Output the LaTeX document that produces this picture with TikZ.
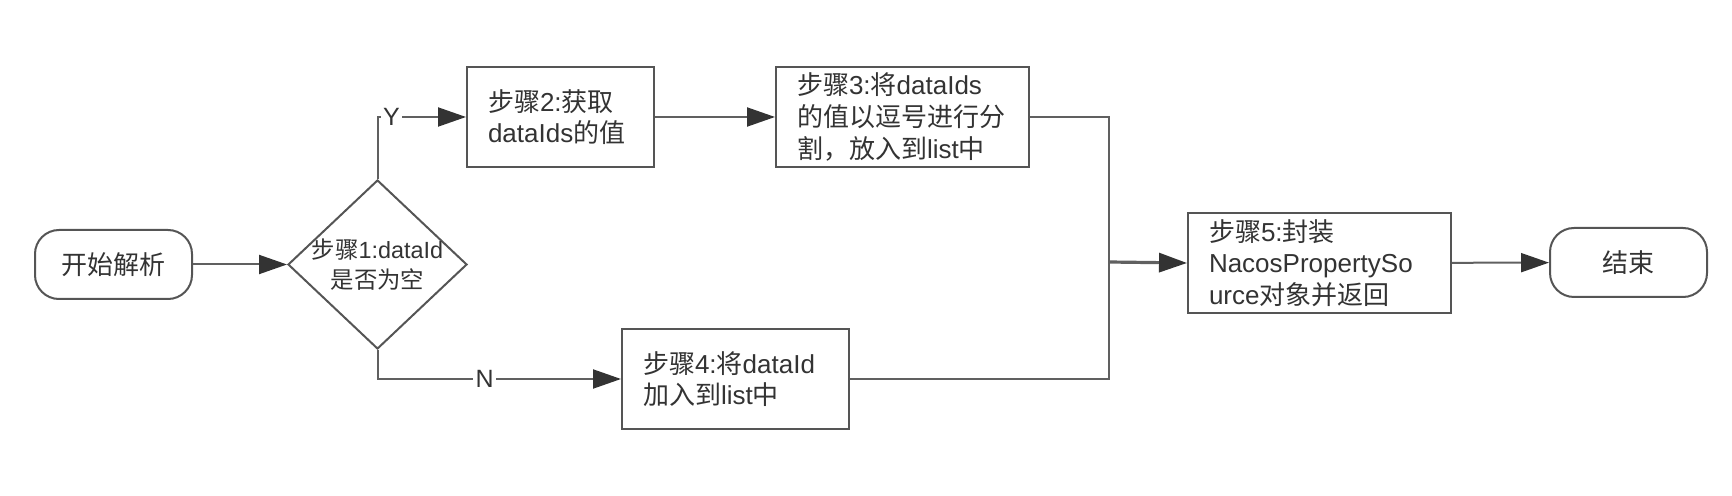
\documentclass[tikz,border=0pt]{standalone}
\usepackage{fontspec}
\setmainfont{Liberation Sans}
\newfontfamily\cjkf{Noto Sans CJK SC}
\newcommand\zh[1]{{\cjkf #1}}
\usetikzlibrary{arrows.meta,shapes.geometric}
\definecolor{linec}{HTML}{606060}
\definecolor{borderc}{HTML}{555555}
\definecolor{arrowc}{HTML}{333333}
\definecolor{textc}{HTML}{333333}
\tikzset{
  conn/.style={draw=linec, line width=1pt},
  arr/.style={conn, -{Triangle[length=14pt,width=9.5pt,color=arrowc]}},
  stepbox/.style={draw=borderc, line width=1pt, rectangle, fill=white, text=textc,
    font=\fontsize{13pt}{15.8pt}\selectfont, align=left, inner xsep=10.5pt, inner ysep=0pt, anchor=center},
  termbox/.style={draw=borderc, line width=1pt, rounded corners=12pt, text=textc,
    font=\fontsize{13pt}{15.8pt}\selectfont, align=center},
  decbox/.style={draw=borderc, line width=1pt, diamond, inner sep=0pt},
  dectext/.style={text=textc, font=\fontsize{11.7pt}{15pt}\selectfont, align=center, inner sep=0pt},
  lbl/.style={fill=white, text=textc, font=\fontsize{12.5pt}{14pt}\selectfont, inner sep=1.2pt}
}
\begin{document}
\begin{tikzpicture}[x=0.5pt, y=-0.5pt]
\useasboundingbox (0,0) rectangle (1732,496);
\node[termbox, minimum width=78.5pt, minimum height=34.5pt] (start) at (113.5,264.5) {\zh{开始解析}};
\node[decbox, minimum width=89.5pt, minimum height=84.5pt,
  label={[dectext]center:\zh{步骤}1:dataId\\\zh{是否为空}}] (d) at (377.5,264.5) {};
\node[stepbox, minimum width=93.5pt, minimum height=50pt, text width=72.5pt] (b2) at (560.5,117) {\zh{步骤}2:\zh{获取}\\dataIds\zh{的值}};
\node[stepbox, minimum width=126.5pt, minimum height=50pt, text width=105.5pt] (b3) at (902.5,117) {\zh{步骤}3:\zh{将}dataIds\\\zh{的值以逗号进行分}\\\zh{割，放入到}list\zh{中}};
\node[stepbox, minimum width=113.5pt, minimum height=50pt, text width=92.5pt] (b4) at (735.5,379) {\zh{步骤}4:\zh{将}dataId\\\zh{加入到}list\zh{中}};
\node[stepbox, minimum width=131.5pt, minimum height=50pt, text width=110.5pt] (b5) at (1319.5,263) {\zh{步骤}5:\zh{封装}\\NacosPropertySo\\urce\zh{对象并返回}};
\node[termbox, minimum width=78.5pt, minimum height=34.5pt] (end) at (1628.5,262.5) {\zh{结束}};
\coordinate (J) at (1109,262);
\draw[arr] (start) -- (d);
\draw[arr] (d.north) |- node[lbl, pos=0.579] {Y} (b2.west);
\draw[arr] (d.south) |- node[lbl, pos=0.72] {N} (b4.west);
\draw[arr] (b2) -- (b3);
\draw[conn] (b3.east) -| (J);
\draw[conn] (b4.east) -| (J);
\draw[arr, line width=1.6pt] (J) -- (b5.west);
\draw[arr] (b5) -- (end);
\end{tikzpicture}
\end{document}
